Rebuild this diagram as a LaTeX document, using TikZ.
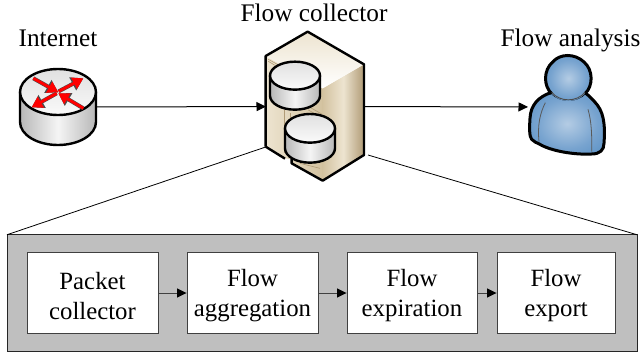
\documentclass[tikz,border=0pt]{standalone}
\usepackage{fontspec}
\setmainfont{Liberation Serif}
\usetikzlibrary{arrows.meta,calc}
\definecolor{ublight}{HTML}{B4CCE4}
\definecolor{ubmid}{HTML}{77A3CF}
\definecolor{ubdark}{HTML}{4A87C0}
\definecolor{panelgrey}{HTML}{BFBFBF}
\definecolor{tanA}{HTML}{EDE4D0}
\definecolor{tanB}{HTML}{D3C2A0}
\definecolor{tanC}{HTML}{B09B76}
\pgfdeclareradialshading{userball}{\pgfpoint{0bp}{0bp}}{color(0bp)=(ublight); color(20bp)=(ubmid); color(42bp)=(ubdark); color(50bp)=(ubdark)}
\tikzset{
  lbl/.style={font=\fontsize{25.3}{30}\selectfont,inner sep=0pt,anchor=base},
  stage/.style={draw=black!75,line width=0.9pt,fill=white,minimum height=81pt,inner sep=0pt},
  stagetext/.style={align=center,inner sep=0pt,font=\fontsize{24.8}{30}\selectfont},
  flow/.style={line width=1pt,black,-{Triangle[length=9.5pt,width=9pt]}},
  stageflow/.style={line width=1pt,black!75,-{Triangle[length=9.5pt,width=9pt,black]}},
  zoomline/.style={line width=0.8pt,black},
  outline/.style={draw=black,line width=2.4pt,line join=round},
}
% cylinder: cx, cy of top ellipse, rx, ry, height (in local units)
\newcommand{\cylinderart}[5]{%
  \path[outline,left color=black!28,right color=black!28,middle color=black!4]
    (#1-#3,#2) -- (#1-#3,#2+#5) arc[start angle=180,end angle=360,x radius=#3,y radius=-#4] -- (#1+#3,#2) -- cycle;
  \path[outline,top color=black!12,bottom color=black!2] (#1,#2) ellipse[x radius=#3,y radius=#4];
}
\newcommand{\redarrow}[2]{%
  \draw[line width=4pt,black!70,-{Triangle[length=12pt,width=14pt]}] #1 -- #2;
  \draw[line width=2.9pt,red,-{Triangle[length=10.5pt,width=12pt]}] #1 -- #2;
}
\begin{document}
\begin{tikzpicture}[x=1pt,y=-1pt]
\useasboundingbox (0,0) rectangle (641,356);
\fill[white] (0,0) rectangle (641,356);

% anchor nodes of the three drawn devices
\node[minimum width=76pt,minimum height=76pt,inner sep=0pt,outer sep=0pt] (router) at (58,107) {};
\node[minimum width=98pt,minimum height=149pt,inner sep=0pt,outer sep=0pt] (server) at (315,106.5) {};
\node[minimum width=77pt,minimum height=101pt,inner sep=0pt,outer sep=0pt] (user) at (566.5,107) {};

% labels
\node[lbl] (linternet) at (58,46) {Internet};
\node[lbl] (lcollector) at (314,21) {Flow collector};
\node[lbl] (lanalysis) at (570.5,46) {Flow analysis};

% panel
\node[draw=black!85,line width=0.9pt,fill=panelgrey,minimum width=630pt,minimum height=116.5pt,inner sep=0pt,outer sep=0pt] (panel) at (322,293) {};
\coordinate (zoomL) at (265.7,147);
\coordinate (zoomR) at (368,155);
\draw[zoomline] (panel.north west) -- (zoomL);
\draw[zoomline] (panel.north east) -- (zoomR);

% stages
\node[stage,minimum width=131pt] (s1) at (92.5,293) {};
\node[stage,minimum width=131pt] (s2) at (252.5,293) {};
\node[stage,minimum width=130pt] (s3) at (412,293) {};
\node[stage,minimum width=118pt] (s4) at (556,293) {};
\node[stagetext] (t1) at ([yshift=-3pt]s1.center) {Packet\\collector};
\node[stagetext] (t2) at ([yshift=-3pt]s2.center) {Flow\\aggregation};
\node[stagetext] (t3) at ([yshift=-3pt]s3.center) {Flow\\expiration};
\node[stagetext] (t4) at ([yshift=-3pt]s4.center) {Flow\\export};
\draw[stageflow] (s1) -- (s2);
\draw[stageflow] (s2) -- (s3);
\draw[stageflow] (s3) -- (s4);

% top connectors
\draw[flow] (router) -- (server);
\draw[flow] (server) -- (user);

% router
\begin{scope}[shift={(0,50)},scale=0.33333]
  \cylinderart{174}{126}{114}{69}{90}
  \redarrow{(100,85)}{(175,127)}
  \redarrow{(176,124)}{(250,85)}
  \redarrow{(170,130)}{(95,172)}
  \redarrow{(250,175)}{(175,130)}
\end{scope}

% server
\begin{scope}[shift={(240,20)},scale=0.33333]
  \path[left color=tanA,right color=tanB] (77,108) -- (248,205) -- (248,482) -- (155,430) -- (155,418) -- (135,415) -- (77,380) -- cycle;
  \path[left color=tanB,right color=tanC,middle color=tanA] (248,205) -- (372,133) -- (372,405) -- (248,482) -- cycle;
  \path[top color=tanA,bottom color=white] (203,35) -- (372,133) -- (248,205) -- (77,108) -- cycle;
  \draw[tanC,line width=0.6pt] (133,270) -- (133,400) (150,280) -- (150,330);
  \draw[tanC,line width=0.6pt] (85,118) -- (110,132) (85,124) -- (105,136) (240,205) -- (240,232) (210,262) -- (245,282) (205,270) -- (240,290) (180,430) -- (240,445);
  \path[outline] (77,380) -- (77,108) -- (203,35) -- (372,133) -- (372,405) -- (248,482) -- (155,430) -- (155,416) (135,416) -- (77,380);
  \cylinderart{165}{167}{75}{42}{60}
  \cylinderart{210}{325}{75}{43}{60}
\end{scope}

% user
\begin{scope}[shift={(510,40)},scale=0.33333]
  \path[draw=black,line width=3pt,line join=round,shading=userball]
    (125,157) .. controls (85,170) and (62,195) .. (60,235)
    .. controls (58,265) and (58,290) .. (65,298)
    .. controls (72,306) and (80,308) .. (88,312)
    .. controls (120,332) and (190,345) .. (245,342)
    .. controls (270,342) and (282,330) .. (282,310)
    .. controls (285,270) and (285,225) .. (262,195)
    .. controls (250,180) and (238,168) .. (225,158)
    .. controls (200,185) and (150,185) .. (125,157) -- cycle;
  \draw[black!65,line width=0.8pt] (106,188) .. controls (90,220) and (82,255) .. (87,305);
  \draw[black!65,line width=0.8pt] (234,208) .. controls (245,245) and (246,290) .. (245,335);
  \path[shading=userball] (175,115) circle[radius=68];
  \draw[black,line width=3pt] (225,161) .. controls (250,138) and (250,90) .. (222,66) .. controls (195,40) and (150,40) .. (128,66) .. controls (100,90) and (100,138) .. (125,161);
  \draw[black!70,line width=0.9pt] (125,157) .. controls (150,187) and (200,187) .. (225,157);
\end{scope}
\end{tikzpicture}
\end{document}
